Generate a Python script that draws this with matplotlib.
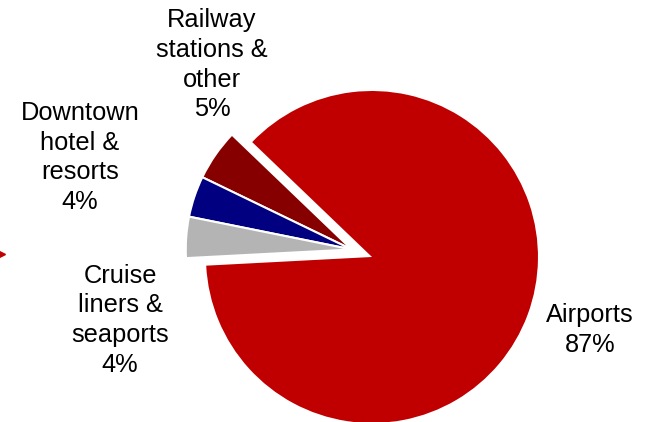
import numpy as np
import matplotlib
matplotlib.use('Agg')
import matplotlib.pyplot as plt

# Dane
labels = ['Railway\nstations &\nother\n5%', 'Downtown\nhotel &\nresorts\n4%',
          'Cruise\nliners &\nseaports\n4%', 'Airports\n87%']
shares = [5, 4, 4, 87]
colors = ['#860000', '#000080', '#B4B4B4', '#C00000']

plt.rcParams['font.family'] = ['Liberation Sans', 'DejaVu Sans']

fig = plt.figure(figsize=(6.5, 4.22), dpi=100)
ax = fig.add_axes([0, 0, 1, 1])

start = 136.2
wedges, _ = ax.pie(shares, colors=colors, startangle=start, counterclock=True,
                   radius=1.0, wedgeprops=dict(edgecolor='white', linewidth=1.5))

# Małe segmenty wysunięte razem jako grupa
small_total = sum(shares[:3]) / sum(shares) * 360
mid = np.deg2rad(start + small_total / 2)
off = 0.13
for w in wedges[:3]:
    w.set_center((off * np.cos(mid), off * np.sin(mid)))
wedges[3].set_edgecolor('none')

# Etykiety
label_pos = [(-0.964, 1.157), (-1.759, 0.600), (-1.518, -0.380), (1.313, -0.440)]
for txt, (x, y) in zip(labels, label_pos):
    ax.text(x, y, txt, ha='center', va='center', fontsize=18.3, linespacing=1.3)

# Mały czerwony znacznik przy lewej krawędzi
ax.plot([-2.241], [0.02], marker='>', color='#C00000', markersize=7, clip_on=False)

ax.set_xlim(-2.241, 1.675)
ax.set_ylim(-0.994, 1.548)
ax.set_aspect('equal')
ax.axis('off')

fig.savefig('out.png', dpi=100)
